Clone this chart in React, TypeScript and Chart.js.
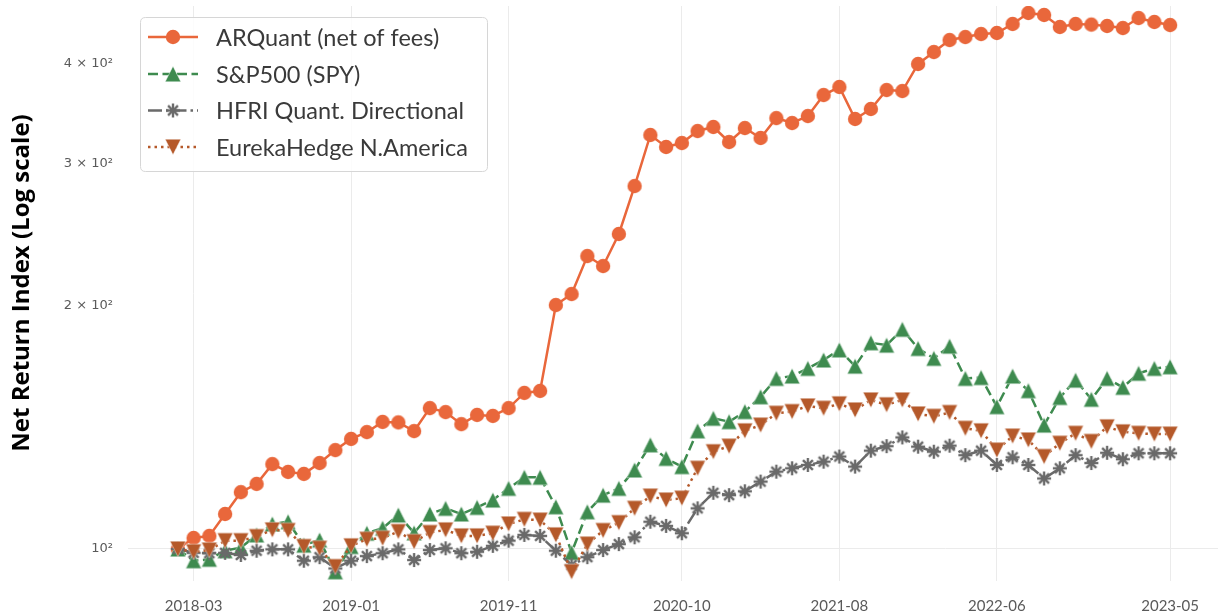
import React, { useEffect, useRef } from 'react';
import { Chart, registerables } from 'chart.js';

Chart.register(...registerables);

const months = [
  '2018-02', '2018-03', '2018-04', '2018-05', '2018-06', '2018-07', '2018-08', '2018-09', '2018-10', '2018-11', '2018-12',
  '2019-01', '2019-02', '2019-03', '2019-04', '2019-05', '2019-06', '2019-07', '2019-08', '2019-09', '2019-10', '2019-11', '2019-12',
  '2020-01', '2020-02', '2020-03', '2020-04', '2020-05', '2020-06', '2020-07', '2020-08', '2020-09', '2020-10', '2020-11', '2020-12',
  '2021-01', '2021-02', '2021-03', '2021-04', '2021-05', '2021-06', '2021-07', '2021-08', '2021-09', '2021-10', '2021-11', '2021-12',
  '2022-01', '2022-02', '2022-03', '2022-04', '2022-05', '2022-06', '2022-07', '2022-08', '2022-09', '2022-10', '2022-11', '2022-12',
  '2023-01', '2023-02', '2023-03', '2023-04', '2023-05',
];

const arquant = [
  100, 103.2, 103.8, 110.5, 117.6, 120.4, 127.4, 124.6, 123.9, 127.8, 132.6,
  136.9, 139.6, 143.7, 143.5, 140.0, 149.5, 147.8, 142.8, 146.6, 146.2, 149.5, 156.1,
  157.0, 200.6, 207.0, 230.7, 224.2, 245.7, 281.7, 325.9, 314.9, 318.5, 329.6, 333.4,
  319.4, 332.4, 323.1, 342.0, 337.2, 344.0, 365.2, 373.7, 341.1, 351.0, 370.5, 369.4,
  399.1, 412.9, 427.3, 431.0, 434.7, 436.0, 447.3, 461.6, 459.0, 443.5, 447.3, 446.5,
  444.8, 442.2, 455.0, 449.9, 446.0,
];

const sp500 = [
  100, 96.7, 97.1, 99.5, 100.4, 104.1, 107.4, 108.1, 101.1, 102.6, 93.7,
  100.7, 104.6, 106.1, 110.2, 104.7, 110.5, 112.3, 110.5, 112.6, 115.0, 118.9, 122.7,
  122.7, 112.8, 99.0, 111.2, 116.6, 118.9, 125.3, 134.6, 129.5, 126.5, 140.1, 145.2,
  143.8, 148.0, 154.4, 162.7, 163.8, 167.4, 171.5, 176.5, 168.5, 180.1, 178.9, 187.2,
  177.2, 172.3, 178.4, 162.7, 163.1, 150.1, 163.8, 157.1, 142.4, 154.1, 161.9, 153.3,
  162.7, 158.6, 165.1, 167.4, 168.2,
];

const hfri = [
  100, 98.9, 98.8, 98.9, 98.3, 99.5, 99.9, 99.9, 96.7, 97.7, 94.6,
  96.7, 98.0, 98.8, 99.9, 96.9, 99.7, 100.2, 98.8, 99.2, 100.9, 102.4, 104.1,
  103.8, 99.5, 95.5, 97.7, 99.7, 101.4, 103.4, 108.1, 106.8, 104.6, 112.3, 117.4,
  116.6, 117.9, 121.2, 124.7, 125.9, 127.1, 128.3, 130.2, 126.5, 132.4, 134.1, 137.5,
  133.9, 132.0, 134.3, 130.7, 132.4, 127.1, 129.9, 127.1, 122.3, 125.9, 130.7, 127.8,
  131.6, 129.2, 131.4, 131.4, 131.4,
];

const eureka = [
  100, 99.2, 99.7, 102.4, 102.4, 103.6, 105.6, 105.4, 100.7, 100.2, 95.1,
  100.9, 102.8, 103.1, 105.1, 102.1, 104.8, 105.6, 103.8, 103.8, 104.6, 107.4, 108.8,
  108.6, 104.1, 93.7, 101.4, 105.4, 107.8, 112.3, 116.3, 115.0, 115.6, 125.9, 132.0,
  134.1, 140.1, 142.4, 147.3, 148.0, 150.4, 149.4, 151.3, 148.7, 153.0, 150.9, 153.0,
  147.0, 146.0, 147.6, 141.1, 140.1, 132.6, 138.0, 136.5, 130.2, 135.2, 139.1, 135.9,
  141.7, 139.7, 139.1, 138.8, 138.8,
];

const seriesNames = ['ARQuant (net of fees)', 'S&P500 (SPY)', 'HFRI Quant. Directional', 'EurekaHedge N.America'];
const seriesColors = ['#E9673B', '#3E8B4F', '#6A6A6A', '#B5592A'];
const seriesDashes: number[][] = [[], [10, 4.5], [14, 4, 2.5, 4], [2.5, 4]];
const seriesMarkers = ['circle', 'up', 'star', 'down'];

const xTickLabels = ['2018-03', '2019-01', '2019-11', '2020-10', '2021-08', '2022-06', '2023-05'];
const yTickValues = [100, 200, 300, 400];
const yTickLabels = ['10²', '2 × 10²', '3 × 10²', '4 × 10²'];
const yTitle = 'Net Return Index (Log scale)';

function makeMarker(kind: string, color: string): HTMLCanvasElement {
  const s = 20;
  const c = document.createElement('canvas');
  c.width = s;
  c.height = s;
  const g = c.getContext('2d') as CanvasRenderingContext2D;
  const m = s / 2;
  g.fillStyle = color;
  g.strokeStyle = color;
  if (kind === 'circle') {
    g.beginPath();
    g.arc(m, m, 7.2, 0, Math.PI * 2);
    g.fill();
  } else if (kind === 'up' || kind === 'down') {
    const h = 7.8;
    const d = kind === 'up' ? 1 : -1;
    g.beginPath();
    g.moveTo(m, m - d * h);
    g.lineTo(m + h, m + d * h);
    g.lineTo(m - h, m + d * h);
    g.closePath();
    g.fill();
    g.lineWidth = 0.8;
    g.strokeStyle = 'rgba(255,255,255,0.55)';
    g.stroke();
  } else {
    const h = 7;
    g.lineWidth = 2.4;
    for (let k = 0; k < 4; k++) {
      const a = (k * Math.PI) / 4;
      g.beginPath();
      g.moveTo(m + Math.cos(a) * h, m + Math.sin(a) * h);
      g.lineTo(m - Math.cos(a) * h, m - Math.sin(a) * h);
      g.stroke();
    }
  }
  return c;
}

function zeroPadding(scale: any) {
  scale.paddingTop = 0;
  scale.paddingBottom = 0;
  scale.paddingLeft = 0;
  scale.paddingRight = 0;
}

export default function App() {
  const ref = useRef<HTMLCanvasElement | null>(null);

  useEffect(() => {
    const canvas = ref.current;
    if (!canvas) return;
    const markers = seriesMarkers.map((k, i) => makeMarker(k, seriesColors[i]));
    const allSeries = [arquant, sp500, hfri, eureka];

    const legendPlugin = {
      id: 'boxLegend',
      afterDraw(chart: any) {
        const ctx = chart.ctx as CanvasRenderingContext2D;
        ctx.save();
        // y-axis title
        ctx.save();
        ctx.translate(22, 283);
        ctx.rotate(-Math.PI / 2);
        ctx.fillStyle = '#000000';
        ctx.font = 'bold 24px "Open Sans"';
        ctx.textAlign = 'center';
        ctx.textBaseline = 'middle';
        ctx.fillText(yTitle, 0, 0);
        ctx.restore();
        // legend box
        const bx = 140.5, by = 17.5, bw = 347, bh = 154, r = 5;
        ctx.beginPath();
        ctx.moveTo(bx + r, by);
        ctx.lineTo(bx + bw - r, by);
        ctx.quadraticCurveTo(bx + bw, by, bx + bw, by + r);
        ctx.lineTo(bx + bw, by + bh - r);
        ctx.quadraticCurveTo(bx + bw, by + bh, bx + bw - r, by + bh);
        ctx.lineTo(bx + r, by + bh);
        ctx.quadraticCurveTo(bx, by + bh, bx, by + bh - r);
        ctx.lineTo(bx, by + r);
        ctx.quadraticCurveTo(bx, by, bx + r, by);
        ctx.closePath();
        ctx.fillStyle = 'rgba(255,255,255,0.85)';
        ctx.fill();
        ctx.strokeStyle = '#d6d6d6';
        ctx.lineWidth = 1;
        ctx.stroke();
        const rows = [37, 74, 110.5, 147];
        seriesNames.forEach((name, i) => {
          const y = rows[i];
          ctx.strokeStyle = seriesColors[i];
          ctx.lineWidth = 2.5;
          ctx.setLineDash(seriesDashes[i]);
          ctx.beginPath();
          ctx.moveTo(148, y);
          ctx.lineTo(198, y);
          ctx.stroke();
          ctx.setLineDash([]);
          const mk = markers[i];
          ctx.drawImage(mk, 173 - mk.width / 2, y - mk.height / 2);
          ctx.fillStyle = '#3a3a3a';
          ctx.font = '23.5px Lato';
          ctx.textAlign = 'left';
          ctx.textBaseline = 'middle';
          ctx.fillText(name, 216, y + 1);
        });
        ctx.restore();
      },
    };

    const chart = new Chart(canvas, {
      type: 'line',
      data: {
        datasets: allSeries.map((vals, i) => ({
          label: seriesNames[i],
          data: vals.map((v, j) => ({ x: j, y: v })),
          borderColor: seriesColors[i],
          backgroundColor: seriesColors[i],
          borderWidth: 2.5,
          borderDash: seriesDashes[i],
          pointStyle: markers[i],
          pointRadius: 7,
          pointHoverRadius: 7,
          tension: 0,
          fill: false,
          order: 3 - i,
        })),
      },
      options: {
        animation: false,
        responsive: false,
        devicePixelRatio: 1,
        layout: { autoPadding: false, padding: { top: 6, left: 0, right: 0, bottom: 0 } },
        plugins: {
          legend: { display: false },
          tooltip: { enabled: false },
        },
        scales: {
          x: {
            type: 'linear',
            min: -3.165,
            max: 66.04,
            border: { display: false },
            grid: { color: '#ebebeb', lineWidth: 1, drawTicks: false },
            afterBuildTicks: (scale: any) => {
              scale.ticks = xTickLabels.map((l) => ({ value: months.indexOf(l) }));
            },
            afterFit: (scale: any) => {
              scale.height = 33;
              zeroPadding(scale);
            },
            ticks: {
              autoSkip: false,
              maxRotation: 0,
              padding: 16,
              color: '#5a5a5a',
              font: { family: 'Lato', size: 15 },
              callback: (v: any) => months[Math.round(Number(v))] ?? '',
            },
          },
          y: {
            type: 'logarithmic',
            min: 91.27,
            max: 470.87,
            border: { display: false },
            grid: {
              drawTicks: false,
              lineWidth: 1,
              color: (ctx: any) => (ctx.tick && ctx.tick.value === 100 ? '#ebebeb' : 'rgba(0,0,0,0)'),
            },
            afterBuildTicks: (scale: any) => {
              scale.ticks = yTickValues.map((v) => ({ value: v }));
            },
            afterFit: (scale: any) => {
              scale.width = 128;
              zeroPadding(scale);
            },
            ticks: {
              autoSkip: false,
              padding: 15,
              color: '#5a5a5a',
              font: { family: 'DejaVu Sans', size: 13 },
              callback: (v: any) => {
                const k = yTickValues.indexOf(Number(v));
                return k >= 0 ? yTickLabels[k] : '';
              },
            },
          },
        },
      },
      plugins: [legendPlugin],
    } as any);

    return () => {
      chart.destroy();
    };
  }, []);

  return (
    <div style={{ position: 'absolute', left: 0, top: 0, width: 1218, height: 614, background: '#ffffff' }}>
      <canvas ref={ref} width={1218} height={614} style={{ display: 'block' }} />
    </div>
  );
}
